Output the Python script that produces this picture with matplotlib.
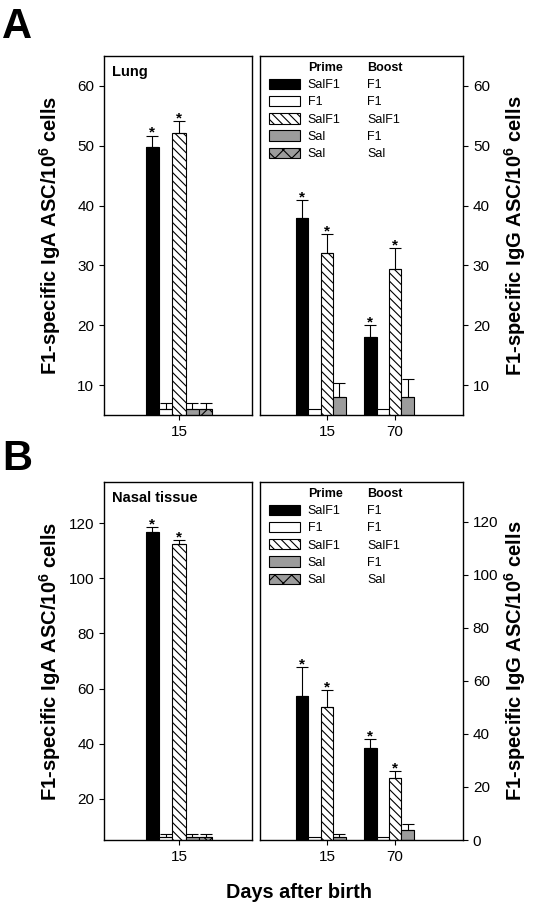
import numpy as np
import matplotlib
matplotlib.use('Agg')
import matplotlib.pyplot as plt
from matplotlib.patches import Patch

plt.rcParams['font.family'] = ['Liberation Sans', 'DejaVu Sans']
plt.rcParams['mathtext.fontset'] = 'custom'
plt.rcParams['mathtext.rm'] = 'Liberation Sans'
plt.rcParams['mathtext.bf'] = 'Liberation Sans:bold'
plt.rcParams['hatch.linewidth'] = 0.8

# groups (prime / boost)
prime = ["SalF1", "F1", "SalF1", "Sal", "Sal"]
boost = ["F1", "F1", "SalF1", "F1", "Sal"]
iga_days = ["15"]
igg_days = ["15", "70"]

# Lung, IgA (day 15)
lung_iga = [49.8, 6.0, 52.2, 6.0, 6.0]
lung_iga_err = [1.9, 1.0, 1.9, 1.0, 1.0]
lung_iga_sig = [True, False, True, False, False]

# Lung, IgG (rows = groups, cols = day 15, 70)
lung_igg = [[38.0, 18.0], [6.0, 6.0], [32.0, 29.4], [8.0, 8.0], [np.nan, np.nan]]
lung_igg_err = [[2.9, 2.0], [0.0, 0.0], [3.2, 3.5], [2.3, 3.0], [0.0, 0.0]]
lung_igg_sig = [[True, True], [False, False], [True, True], [False, False], [False, False]]

# Nasal tissue, IgA (day 15)
nasal_iga = [117.0, 6.0, 112.5, 6.0, 6.0]
nasal_iga_err = [1.6, 1.0, 1.4, 1.0, 1.0]
nasal_iga_sig = [True, False, True, False, False]

# Nasal tissue, IgG
nasal_igg = [[54.3, 34.7], [1.0, 1.0], [50.2, 23.4], [1.2, 3.8], [np.nan, np.nan]]
nasal_igg_err = [[11.0, 3.3], [0.0, 0.0], [6.4, 2.6], [1.0, 2.2], [0.0, 0.0]]
nasal_igg_sig = [[True, True], [False, False], [True, True], [False, False], [False, False]]

gray = '#9c9c9c'
styles = [dict(facecolor='black', hatch=None),
          dict(facecolor='white', hatch=None),
          dict(facecolor='white', hatch='\\\\\\\\'),
          dict(facecolor=gray, hatch=None),
          dict(facecolor=gray, hatch='xx')]

W, H = 535, 914
fig = plt.figure(figsize=(W / 100, H / 100), dpi=100)


def px_axes(x0, y0, x1, y1):
    return fig.add_axes([x0 / W, 1 - y1 / H, (x1 - x0) / W, (y1 - y0) / H])


def draw_bars(ax, centers, values, errs, sigs):
    # values[group][day]
    for i, st in enumerate(styles):
        for j, c in enumerate(centers):
            v = values[i][j]
            if np.isnan(v):
                continue
            x = c + (i - 2)
            ax.bar(x, v, width=1.0, edgecolor='black', linewidth=0.8, zorder=2, **st)
            e = errs[i][j]
            if e > 0:
                ax.errorbar(x, v, yerr=[[0], [e]], fmt='none', ecolor='black',
                            elinewidth=0.8, capsize=4.5, capthick=0.8, zorder=3)
            if sigs[i][j]:
                ax.annotate('*', (x, v + e), xytext=(0, -3), textcoords='offset points',
                            ha='center', va='bottom', fontsize=11, fontweight='bold')


def style_axes(ax, side):
    for s in ax.spines.values():
        s.set_linewidth(1.0)
    ax.tick_params(direction='out', length=3.6, width=0.8, labelsize=11)
    if side == 'right':
        ax.yaxis.tick_right()
    ax.tick_params(axis='x', top=False)


def add_legend(ax):
    blank = Patch(visible=False)
    h1 = [blank] + [Patch(edgecolor='black', linewidth=0.8, **st) for st in styles]
    leg1 = ax.legend(h1, ['Prime'] + prime, loc='upper left', bbox_to_anchor=(0.045, 0.985),
                     frameon=False, fontsize=9, handlelength=2.5, handleheight=0.9,
                     handletextpad=0.6, labelspacing=0.38, borderpad=0, borderaxespad=0)
    leg1.get_texts()[0].set_fontweight('bold')
    ax.add_artist(leg1)
    h2 = [Patch(visible=False) for _ in range(6)]
    leg2 = ax.legend(h2, ['Boost'] + boost, loc='upper left', bbox_to_anchor=(0.527, 0.985),
                     frameon=False, fontsize=9, handlelength=0, handleheight=0.9,
                     handletextpad=0, labelspacing=0.38, borderpad=0, borderaxespad=0)
    leg2.get_texts()[0].set_fontweight('bold')


panels = [
    (56, 415, lung_iga, lung_iga_err, lung_iga_sig, lung_igg, lung_igg_err, lung_igg_sig,
     (5, 65), [10, 20, 30, 40, 50, 60], (5, 65), [10, 20, 30, 40, 50, 60], 'Lung'),
    (482, 840, nasal_iga, nasal_iga_err, nasal_iga_sig, nasal_igg, nasal_igg_err, nasal_igg_sig,
     (5, 135), [20, 40, 60, 80, 100, 120], (0, 135), [0, 20, 40, 60, 80, 100, 120], 'Nasal tissue'),
]

for (y0, y1, iga, iga_e, iga_s, igg, igg_e, igg_s, ylA, ytA, ylG, ytG, tissue) in panels:
    # left: IgA
    axl = px_axes(104, y0, 252, y1)
    draw_bars(axl, [0], [[v] for v in iga], [[e] for e in iga_e], [[s] for s in iga_s])
    axl.set_xlim(-5.64, 5.49)
    axl.set_ylim(*ylA)
    axl.set_yticks(ytA)
    axl.set_xticks([0])
    axl.set_xticklabels(iga_days)
    style_axes(axl, 'left')
    axl.text(0.055, 0.975, tissue, transform=axl.transAxes, ha='left', va='top',
             fontsize=10.5, fontweight='bold')
    fig.text(50 / W, 1 - (y0 + y1) / 2 / H, r'F1-specific IgA ASC/10$^{\mathbf{6}}$ cells',
             rotation=90, ha='center', va='center', fontsize=14.5, fontweight='bold')

    # right: IgG
    axr = px_axes(260, y0, 463, y1)
    draw_bars(axr, [0, 5.5], igg, igg_e, igg_s)
    axr.set_xlim(-5.4, 10.97)
    axr.set_ylim(*ylG)
    axr.set_yticks(ytG)
    axr.set_xticks([0, 5.5])
    axr.set_xticklabels(igg_days)
    style_axes(axr, 'right')
    add_legend(axr)
    fig.text(515 / W, 1 - (y0 + y1) / 2 / H, r'F1-specific IgG ASC/10$^{\mathbf{6}}$ cells',
             rotation=90, ha='center', va='center', fontsize=14.5, fontweight='bold')

fig.text(2 / W, 1 - 27 / H, 'A', fontsize=30, fontweight='bold', ha='left', va='center')
fig.text(2 / W, 1 - 459 / H, 'B', fontsize=30, fontweight='bold', ha='left', va='center')
fig.text(299 / W, 1 - 892 / H, 'Days after birth', fontsize=14.3, fontweight='bold',
         ha='center', va='center')

fig.savefig('out.png', dpi=100)
